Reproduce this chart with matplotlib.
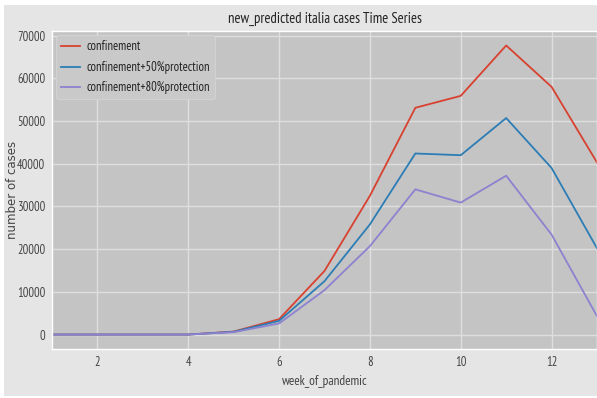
import numpy as np
import matplotlib
matplotlib.use('Agg')
import matplotlib.pyplot as plt
from matplotlib.patches import Rectangle
from matplotlib.font_manager import FontProperties

plt.style.use('ggplot')

## data
weeks = [1, 2, 3, 4, 5, 6, 7, 8, 9, 10, 11, 12, 13]
confinement = [0, 0, 0, 0, 700, 3600, 14900, 32500, 53100, 55900, 67700, 58000, 40300]
conf_50 = [0, 0, 0, 0, 650, 3200, 12500, 25800, 42400, 42000, 50700, 39000, 20200]
conf_80 = [0, 0, 0, 0, 550, 2600, 10400, 20700, 34000, 30900, 37200, 23400, 4300]
series_names = ['confinement', 'confinement+50%protection', 'confinement+80%protection']
yticks = [0, 10000, 20000, 30000, 40000, 50000, 60000, 70000]
xticks = [2, 4, 6, 8, 10, 12]

def narrow(size):
    return FontProperties(family=['PT Sans Narrow', 'DejaVu Sans'], size=size)

colors = ['#D8412F', '#2C7DB5', '#8C82D0']

fig = plt.figure(figsize=(5.97, 3.98), dpi=100, facecolor='white')
# grey figure background with a thin white margin, like the screenshot
fig.patches.append(Rectangle((4 / 597, 2 / 398), 1, 1 - 7 / 398,
                             transform=fig.transFigure, facecolor='#e5e5e5',
                             edgecolor='none', zorder=-10))
ax = fig.add_axes([52 / 597, 1 - 349 / 398, 1 - 52 / 597, (349 - 31) / 398])
ax.set_facecolor('#c4c4c4')

for vals, name, c in zip([confinement, conf_50, conf_80], series_names, colors):
    ax.plot(weeks, vals, color=c, lw=1.3, label=name)

ax.set_xlim(1, 13)
ax.set_xticks(xticks)
ax.set_yticks(yticks)
ax.grid(True, color='#dedede', lw=1)
ax.tick_params(length=0, colors='#444444', pad=5)
for lab in ax.get_xticklabels() + ax.get_yticklabels():
    lab.set_fontproperties(narrow(9))

ax.set_title('new_predicted italia cases Time Series', fontproperties=narrow(10.5),
             color='#222222', pad=6)
ax.set_xlabel('week_of_pandemic', fontproperties=narrow(9.5), color='#444444')
ax.set_ylabel('number of cases', color='#444444',
              fontproperties=FontProperties(family='DejaVu Sans', size=8.5))
ax.yaxis.set_label_coords(-0.06, 0.5)

leg = ax.legend(loc='upper left', prop=narrow(9),
                facecolor='#c9c9c9', edgecolor='#d8d8d8', framealpha=1,
                handlelength=1.5, handletextpad=0.5, labelspacing=0.6,
                borderaxespad=0.35)
for t in leg.get_texts():
    t.set_color('#222222')

fig.savefig('out.png', dpi=100, facecolor=fig.get_facecolor())
